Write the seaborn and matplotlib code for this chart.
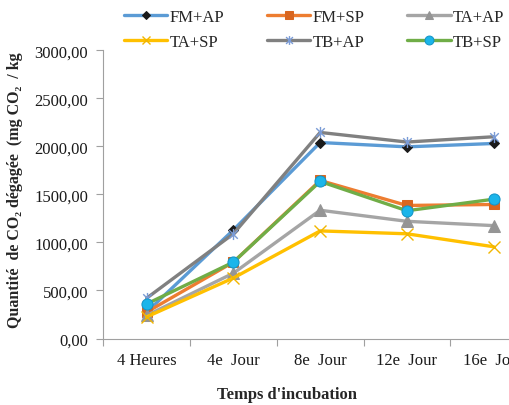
import numpy as np
import pandas as pd
import matplotlib
matplotlib.use("Agg")
import matplotlib.pyplot as plt
from matplotlib.path import Path
import seaborn as sns

# données
jours = ["4 Heures", "4e  Jour", "8e  Jour", "12e  Jour", "16e  Jour"]
fm_ap = [275, 1130, 2040, 1995, 2030]
fm_sp = [275, 795, 1645, 1385, 1395]
ta_ap = [240, 680, 1335, 1220, 1175]
ta_sp = [225, 630, 1120, 1090, 955]
tb_ap = [420, 1090, 2145, 2045, 2100]
tb_sp = [360, 795, 1635, 1330, 1450]
y_ticks = [0, 500, 1000, 1500, 2000, 2500, 3000]
y_labels = ["0,00", "500,00", "1000,00", "1500,00", "2000,00", "2500,00", "3000,00"]

series = {"FM+AP": fm_ap, "FM+SP": fm_sp, "TA+AP": ta_ap,
          "TA+SP": ta_sp, "TB+AP": tb_ap, "TB+SP": tb_sp}

rows = []
for name, vals in series.items():
    for j, v in zip(jours, vals):
        rows.append({"jour": j, "co2": v, "traitement": name})
df = pd.DataFrame(rows)

# étoile façon Excel (x + trait vertical)
star = Path([(-1, -1), (1, 1), (-1, 1), (1, -1), (0, -1.3), (0, 1.3)],
            [Path.MOVETO, Path.LINETO, Path.MOVETO, Path.LINETO, Path.MOVETO, Path.LINETO])

styles = {
    "FM+AP": dict(color="#5B9BD5", marker="D", markersize=5, markerfacecolor="#1a1a1a", markeredgecolor="#1a1a1a"),
    "FM+SP": dict(color="#ED7D31", marker="s", markersize=7, markerfacecolor="#D9661F", markeredgecolor="#D9661F"),
    "TA+AP": dict(color="#A5A5A5", marker="^", markersize=8, markerfacecolor="#959595", markeredgecolor="#959595"),
    "TA+SP": dict(color="#FFC000", marker="x", markersize=8, markeredgecolor="#F2B600", markeredgewidth=1.0),
    "TB+AP": dict(color="#808080", marker=star, markersize=8, markeredgecolor="#7A9BD6", markeredgewidth=1.0),
    "TB+SP": dict(color="#70AD47", marker="o", markersize=8, markerfacecolor="#1BB5EA", markeredgecolor="#1595C8"),
}

sns.set_theme(style="white")
plt.rcParams['font.family'] = ['Liberation Serif', 'DejaVu Serif']

fig = plt.figure(figsize=(5.1, 4.06), dpi=100)
ax = fig.add_axes([103.3 / 510, 66.5 / 406, 433.7 / 510, 288.2 / 406])

for name in series:
    sub = df[df["traitement"] == name]
    sns.lineplot(data=sub, x="jour", y="co2", ax=ax, label=name, linewidth=2.4,
                 sort=False, **styles[name])

ax.set_xlim(-0.5, 4.5)
ax.set_ylim(0, 3000)
ax.set_yticks(y_ticks)
ax.set_yticklabels(y_labels)
ax.set_xticks(range(len(jours)))
ax.set_xticklabels(jours)
ax.set_xticks(np.arange(-0.5, 5, 1), minor=True)
ax.tick_params(axis="x", which="major", length=0, pad=10, labelsize=12, colors="#1a1a1a")
ax.tick_params(axis="x", which="minor", length=5, width=0.8, color="#A0A0A0", direction="out")
ax.tick_params(axis="y", length=5, width=0.8, color="#A0A0A0", direction="out", pad=6,
               labelsize=12, labelcolor="#1a1a1a")
ax.tick_params(left=True, bottom=True)
ax.xaxis.set_tick_params(which="minor", bottom=True)

for s in ["top", "right"]:
    ax.spines[s].set_visible(False)
for s in ["left", "bottom"]:
    ax.spines[s].set_color("#A0A0A0")
    ax.spines[s].set_linewidth(0.8)

ax.set_xlabel("Temps d'incubation", fontsize=12, fontweight="bold")
ax.xaxis.set_label_coords((287 - 103.3) / 433.7, -0.165)
ax.set_ylabel("")
fig.text(15 / 510, 1 - 190 / 406, "Quantité  de CO₂ dégagée  (mg CO₂  / kg",
         rotation=90, ha="center", va="center", fontsize=11.5, fontweight="bold")

h, l = ax.get_legend_handles_labels()
order = [0, 3, 1, 4, 2, 5]
ax.legend([h[i] for i in order], [l[i] for i in order], ncol=3, frameon=False,
          loc="upper left", bbox_to_anchor=(124 / 510, 1 - 10 / 406),
          bbox_transform=fig.transFigure, fontsize=12, handlelength=2.6,
          handletextpad=0.15, columnspacing=2.55, labelspacing=0.55,
          borderpad=0, borderaxespad=0, markerscale=0.8)

fig.savefig("out.png", dpi=100)
